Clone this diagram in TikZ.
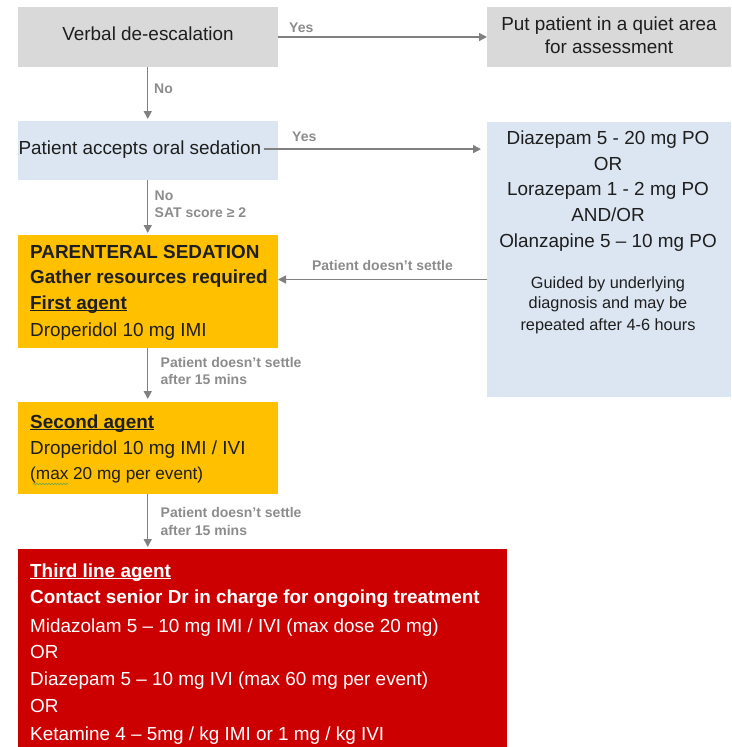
\documentclass[tikz,border=0pt]{standalone}
\usepackage{fontspec}
\setmainfont{Liberation Sans}
\usetikzlibrary{arrows.meta,decorations.pathmorphing}
\definecolor{cgray}{HTML}{D9D9D9}
\definecolor{cblue}{HTML}{DCE6F2}
\definecolor{corange}{HTML}{FFC000}
\definecolor{cred}{HTML}{CC0000}
\definecolor{carrow}{HTML}{808080}
\definecolor{clabel}{HTML}{8C8C8C}
\definecolor{cwavy}{HTML}{6AA84F}
\definecolor{ctext}{HTML}{1E1E1E}
\newcommand\mainf{\fontsize{18.9}{22}\selectfont}
\newcommand\smallf{\fontsize{16.3}{20}\selectfont}
\newcommand\maxf{\fontsize{17.2}{20}\selectfont}
\newcommand\lblf{\fontsize{14}{16}\selectfont\bfseries}
\newcommand\ulbox[1]{\setbox0\hbox{#1}\rlap{\rule[-2.3pt]{\wd0}{1.3pt}}\box0}
\tikzset{
  box/.style={anchor=north west, inner sep=0pt, outer sep=0pt, draw=none},
  txt/.style={inner sep=0pt, font=\mainf, text=ctext},
  stxt/.style={inner sep=0pt, font=\smallf, text=ctext},
  conn/.style={draw=carrow, line width=1.4pt, -{Triangle[length=8pt,width=8pt]}},
  lbl/.style={inner sep=0pt, font=\lblf, text=clabel, anchor=base west},
  wavy/.style={draw=cwavy, line width=0.6pt, decorate, decoration={snake, amplitude=0.8pt, segment length=3pt}}
}
\begin{document}
\begin{tikzpicture}[x=1pt,y=-1pt]
\useasboundingbox (0,0) rectangle (731,747);
% boxes
\node[box, fill=cgray, minimum width=260.5pt, minimum height=60pt] (A) at (17.5,7) {};
\node[box, fill=cgray, minimum width=244pt, minimum height=60pt] (B) at (487,7) {};
\node[box, fill=cblue, minimum width=260.5pt, minimum height=59pt] (C) at (17.5,121) {};
\node[box, fill=cblue, minimum width=244pt, minimum height=275pt] (D) at (487,122) {};
\node[box, fill=corange, minimum width=260.5pt, minimum height=113pt] (E) at (17.5,235) {};
\node[box, fill=corange, minimum width=260.5pt, minimum height=92pt] (F) at (17.5,402) {};
\node[box, fill=cred, minimum width=489.5pt, minimum height=198pt] (G) at (17.5,549) {};
% box texts
\node[txt, anchor=base] (tA) at (148,40) {Verbal de-escalation};
\node[txt, anchor=base] (tB1) at (609,30.7) {Put patient in a quiet area};
\node[txt, anchor=base] (tB2) at (609,53.3) {for assessment};
\node[txt, anchor=base west] (tC) at (18.3,154) {Patient accepts oral sedation};
\node[txt, anchor=base] (tD1) at (608,144.3) {Diazepam 5 - 20 mg PO};
\node[txt, anchor=base] (tD2) at (608,170) {OR};
\node[txt, anchor=base] (tD3) at (608,195.7) {Lorazepam 1 - 2 mg PO};
\node[txt, anchor=base] (tD4) at (608,221.7) {AND/OR};
\node[txt, anchor=base] (tD5) at (608,247.3) {Olanzapine 5 – 10 mg PO};
\node[stxt, anchor=base] (tD6) at (608,288.3) {Guided by underlying};
\node[stxt, anchor=base] (tD7) at (608,308.8) {diagnosis and may be};
\node[stxt, anchor=base] (tD8) at (608,330) {repeated after 4-6 hours};
\node[txt, anchor=base west, font=\mainf\bfseries] (tE1) at (30,258) {PARENTERAL SEDATION};
\node[txt, anchor=base west, font=\mainf\bfseries] (tE2) at (30,283) {Gather resources required};
\node[txt, anchor=base west, font=\mainf\bfseries] (tE3) at (30,309) {\ulbox{First agent}};
\node[txt, anchor=base west] (tE4) at (30,336) {Droperidol 10 mg IMI};
\node[txt, anchor=base west, font=\mainf\bfseries] (tF1) at (30,428) {\ulbox{Second agent}};
\node[txt, anchor=base west] (tF2) at (30,454) {Droperidol 10 mg IMI / IVI};
\node[txt, anchor=base west, font=\maxf] (tF3) at (30,479) {(max 20 mg per event)};
\draw[wavy] (33,484) -- (68,484);
\node[txt, anchor=base west, text=white, font=\mainf\bfseries] (tG1) at (30,577) {\ulbox{Third line agent}};
\node[txt, anchor=base west, text=white, font=\mainf\bfseries] (tG2) at (30,603) {Contact senior Dr in charge for ongoing treatment};
\node[txt, anchor=base west, text=white] (tG3) at (30,632) {Midazolam 5 – 10 mg IMI / IVI (max dose 20 mg)};
\node[txt, anchor=base west, text=white] (tG4) at (30,658) {OR};
\node[txt, anchor=base west, text=white] (tG5) at (30,685.7) {Diazepam 5 – 10 mg IVI (max 60 mg per event)};
\node[txt, anchor=base west, text=white] (tG6) at (30,712.7) {OR};
\node[txt, anchor=base west, text=white] (tG7) at (30,740) {Ketamine 4 – 5mg / kg IMI or 1 mg / kg IVI};
% connectors
\draw[conn] (A.east) -- (B.west);
\draw[conn, shorten >=2pt] (A.south) -- (C.north);
\draw[conn, shorten <=3pt, shorten >=6pt] (tC.east) -- (tC.east -| D.west);
\draw[conn, shorten >=2pt] (C.south) -- (E.north);
\draw[conn] (D.west |- 0,279.5) -- (E.east |- 0,279.5);
\draw[conn, shorten >=3pt] (E.south) -- (F.north);
\draw[conn, shorten >=2pt] (F.south) -- (F.south |- G.north);
% labels
\node[lbl] (l1) at (289,32.7) {Yes};
\node[lbl] (l2) at (154,93) {No};
\node[lbl] (l3) at (292,141.7) {Yes};
\node[lbl] (l4) at (154.5,200) {No};
\node[lbl] (l5) at (154.5,217) {SAT score ≥ 2};
\node[lbl, anchor=base] (l6) at (382.5,270) {Patient doesn't settle};
\node[lbl] (l7) at (160.5,367) {Patient doesn't settle};
\node[lbl] (l8) at (160.5,384) {after 15 mins};
\node[lbl] (l9) at (160.5,517.7) {Patient doesn't settle};
\node[lbl] (l10) at (160.5,535) {after 15 mins};
\end{tikzpicture}
\end{document}
